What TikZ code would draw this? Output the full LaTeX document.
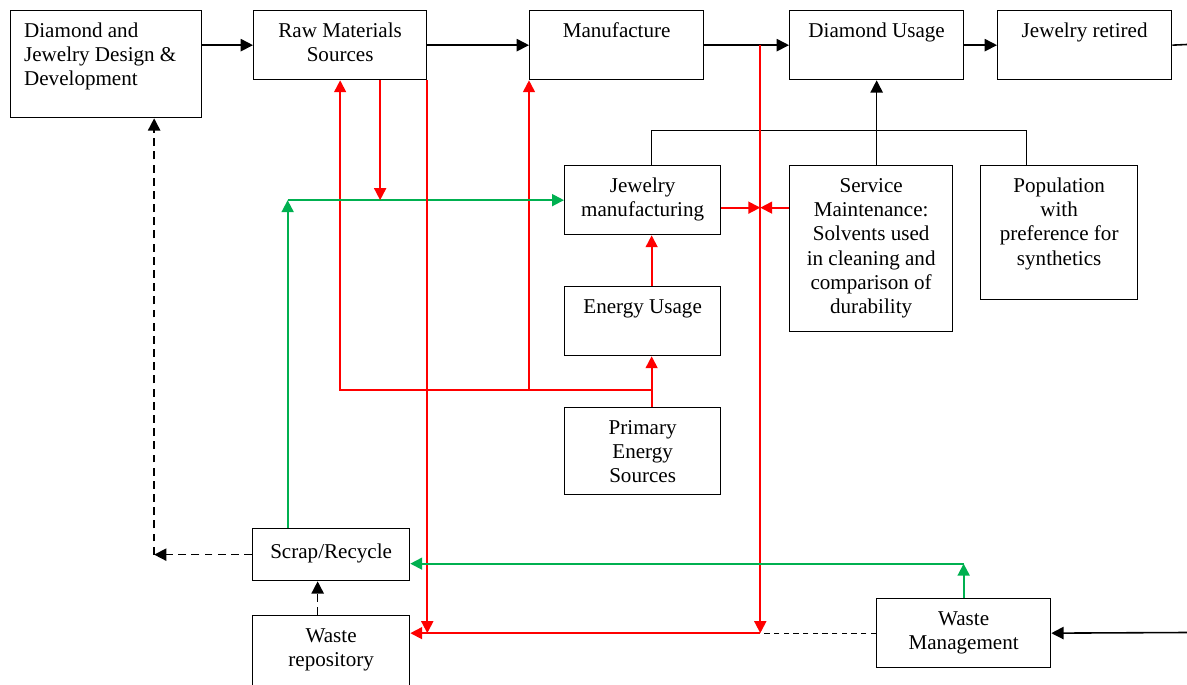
\documentclass[tikz,border=0pt]{standalone}
\usepackage{fontspec}
\setmainfont{Liberation Serif}
\usetikzlibrary{arrows.meta,calc}
\definecolor{grn}{RGB}{0,176,80}

\tikzset{
  blk/.style n args={3}{draw, line width=0.75pt, anchor=north west, inner sep=0pt,
    execute at begin node={\begin{minipage}[t][#2][t]{#1}\fontsize{12}{13.8}\selectfont\vspace*{5.5pt}#3\strut},
    execute at end node={\end{minipage}}},
  blkarr/.style={line width=0.9pt, -{Triangle[length=7pt,width=7pt]}},
  redarr/.style={red, line width=1.05pt, -{Triangle[length=6.8pt,width=6.8pt]}},
  grnarr/.style={grn, line width=1.05pt, -{Triangle[length=6.8pt,width=6.8pt]}},
  dsharr/.style={line width=0.9pt, dash pattern=on 4.5pt off 3pt, -{Triangle[length=7pt,width=7pt]}},
  dshline/.style={line width=0.7pt, dash pattern=on 3pt off 2.5pt}
}

\begin{document}
\begin{tikzpicture}
\begin{scope}[x=0.02cm,y=-0.02cm]
\useasboundingbox (0,0) rectangle (1187,685);

\node[blk={3.82cm}{2.14cm}{\raggedright\leftskip 0.27cm}] (design) at (10,10) {Diamond and\\Jewelry Design \&\\Development};
\node[blk={3.46cm}{1.38cm}{\centering}] (raw) at (253,10) {Raw Materials\\Sources};
\node[blk={3.48cm}{1.38cm}{\centering}] (manuf) at (529,10) {Manufacture};
\node[blk={3.48cm}{1.38cm}{\centering}] (dusage) at (789,10) {Diamond Usage};
\node[blk={3.48cm}{1.38cm}{\centering}] (retired) at (997,10) {Jewelry retired};
\node[blk={3.12cm}{1.38cm}{\centering}] (jewman) at (564,165) {Jewelry\\manufacturing};
\node[blk={3.26cm}{3.32cm}{\centering}] (service) at (789,165) {Service\\Maintenance:\\Solvents used\\in cleaning and\\comparison of\\durability};
\node[blk={3.14cm}{2.68cm}{\centering}] (popul) at (980,165) {Population\\with\\preference for\\synthetics};
\node[blk={3.12cm}{1.38cm}{\centering}] (energy) at (564,286) {Energy Usage};
\node[blk={3.12cm}{1.74cm}{\centering}] (primary) at (564,407) {Primary\\Energy\\Sources};
\node[blk={3.14cm}{1.04cm}{\centering\vspace*{2pt}}] (scrap) at (252,528) {Scrap/Recycle};
\node[blk={3.14cm}{1.6cm}{\centering}] (wrepo) at (252,615) {Waste\\repository};
\node[blk={3.48cm}{1.38cm}{\centering}] (wmgmt) at (876,598) {Waste\\Management};

% main chain
\draw[blkarr] (design.east |- raw.west) -- (raw.west);
\draw[blkarr] (raw.east) -- (manuf.west);
\draw[blkarr] (manuf.east) -- (dusage.west);
\draw[blkarr] (dusage.east) -- (retired.west);
\coordinate (rtout) at (1187,44.5);
\draw[line width=0.9pt] (retired.east) -- (rtout);
\coordinate (wmin) at (1187,632.5);
\draw[blkarr] (wmin) -- (wmgmt.east);

\draw[line width=0.8pt] ($(jewman.north)+(9,0)$) |- ($(popul.north)+(-32.5,-34.3)$) -- ($(popul.north)+(-32.5,0)$);
\draw[blkarr] (service.north -| dusage.south) -- (dusage.south);

% energy
\coordinate (pe) at ($(primary.north)+(9,-17)$);
\draw[redarr] ($(primary.north)+(9,0)$) -- ($(energy.south)+(9,0)$);
\draw[redarr] ($(energy.north)+(9,0)$) -- ($(jewman.south)+(9,0)$);
\draw[redarr] (pe) -| (raw.south);
\draw[redarr] (pe -| manuf.south west) -- (manuf.south west);

\coordinate (rawdn) at ($(raw.south)+(40,0)$);
\coordinate (sx) at ($(scrap.north)+(-43.5,0)$);
\draw[grnarr] (sx) -- (sx |- jewman.west);
\draw[grnarr] (sx |- jewman.west) -- (jewman.west);
\draw[redarr] (rawdn) -- (rawdn |- jewman.west);

% waste
\coordinate (mj) at ($(manuf.east)+(56,0)$);
\draw[redarr] (raw.south east) -- (raw.south east |- wmgmt.west);
\draw[redarr] (mj) -- (mj |- wmgmt.west);
\draw[redarr] (mj |- wmgmt.west) -- (wrepo.east |- wmgmt.west);
\draw[dshline] (wmgmt.west) -- (mj |- wmgmt.west);
\coordinate (rj) at ($(jewman.east)+(0,7.5)$);
\draw[redarr] (rj) -- (rj -| mj);
\draw[redarr] (rj -| service.west) -- (rj -| mj);

\coordinate (gs) at ($(scrap.east)+(0,9)$);
\draw[grnarr] (wmgmt.north) -- (wmgmt.north |- gs);
\draw[grnarr] (wmgmt.north |- gs) -- (gs);

\coordinate (dd) at ($(design.south)+(48,0)$);
\draw[dsharr] (scrap.west) -- (scrap.west -| dd);
\draw[dsharr] (scrap.west -| dd) -- (dd);
\draw[dsharr] ($(wrepo.north)+(-13.5,0)$) -- ($(scrap.south)+(-13.5,0)$);

\end{scope}
\end{tikzpicture}
\end{document}
